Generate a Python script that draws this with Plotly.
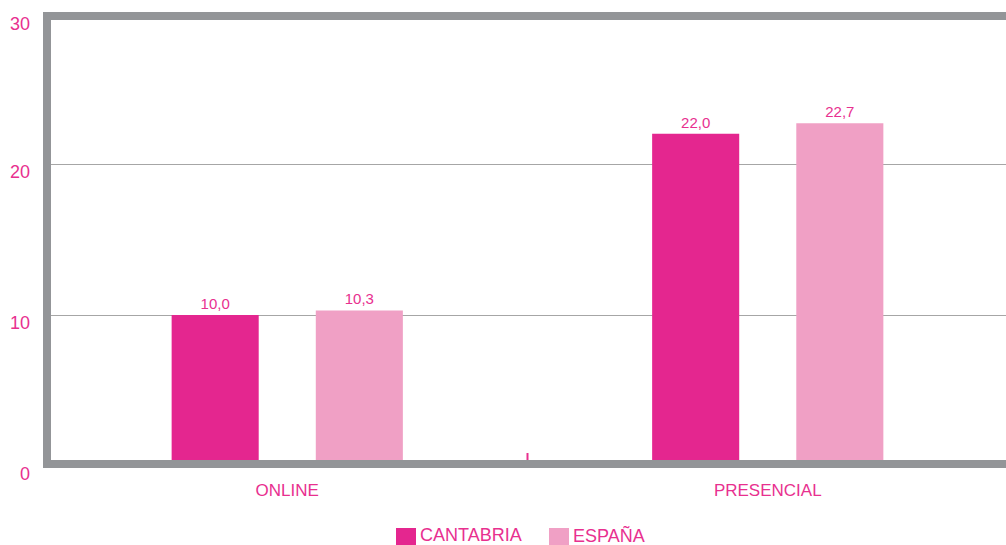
import plotly.graph_objects as go

categories = ["ONLINE", "PRESENCIAL"]
series_names = ["CANTABRIA", "ESPAÑA"]
cantabria = [10.0, 22.0]
espana = [10.3, 22.7]
y_ticks = [0, 10, 20, 30]

COL_C = "#E4268F"
COL_E = "#F0A0C5"
TXT = "#E8308F"
GRAY = "#939598"

W, H = 1006, 545
L, R, T, B = 47, 1006, 13, 466  # plot area pixels


def px(x):
    return (x - L) / (R - L)


def py(y):
    return (B - y) / (B - T)


def lab(v):
    return f"{v:.1f}".replace(".", ",")


fig = go.Figure()
for name, vals, col in [(series_names[0], cantabria, COL_C), (series_names[1], espana, COL_E)]:
    fig.add_trace(go.Bar(
        x=categories, y=vals, name=name, marker=dict(color=col, line=dict(width=0)),
        text=[lab(v) for v in vals], textposition="outside",
        textfont=dict(color=TXT, size=15, family="Liberation Sans"),
        cliponaxis=False, showlegend=False, hoverinfo="skip",
    ))

shapes = []
# frame borders
shapes.append(dict(type="rect", xref="paper", yref="paper", x0=px(43), x1=px(1006), y0=py(20), y1=py(12),
                   fillcolor=GRAY, line=dict(width=0), layer="above"))
shapes.append(dict(type="rect", xref="paper", yref="paper", x0=px(43), x1=px(51), y0=py(468), y1=py(12),
                   fillcolor=GRAY, line=dict(width=0), layer="above"))
shapes.append(dict(type="rect", xref="paper", yref="paper", x0=px(43), x1=px(1006), y0=py(468), y1=py(460),
                   fillcolor=GRAY, line=dict(width=0), layer="above"))
# category divider tick
shapes.append(dict(type="line", xref="x", yref="paper", x0=0.5, x1=0.5, y0=py(460), y1=py(453),
                   line=dict(color=TXT, width=2), layer="above"))

annotations = []
# y tick labels (drawn slightly below their gridlines, as in the reference)
for v in y_ticks:
    annotations.append(dict(xref="paper", yref="y", x=px(32), y=v, yshift=-11 if v == 30 else -8,
                            text=str(v), showarrow=False, xanchor="right", yanchor="middle",
                            font=dict(color=TXT, size=18, family="Liberation Sans")))

legend_items = [(series_names[0], COL_C, 396), (series_names[1], COL_E, 549)]
for name, col, x0 in legend_items:
    shapes.append(dict(type="rect", xref="paper", yref="paper", x0=px(x0), x1=px(x0 + 20),
                       y0=py(547), y1=py(528), fillcolor=col, line=dict(width=0)))
    annotations.append(dict(xref="paper", yref="paper", x=px(x0 + 22), y=py(535), text=name,
                            showarrow=False, xanchor="left", yanchor="middle",
                            font=dict(color=TXT, size=18, family="Liberation Sans")))

fig.update_layout(
    width=W, height=H,
    margin=dict(l=L, r=W - R, t=T, b=H - B),
    paper_bgcolor="white", plot_bgcolor="white",
    barmode="group", bargap=0.40, bargroupgap=0.396,
    shapes=shapes, annotations=annotations,
    xaxis=dict(range=[-0.5, 1.5 - 2 / 481], showgrid=False, zeroline=False, showline=False,
               ticks="", tickfont=dict(color=TXT, size=17, family="Liberation Sans"),
               ticklabelstandoff=12),
    yaxis=dict(range=[0, 30], tickvals=y_ticks, showgrid=True, gridcolor="#A6A6A6", gridwidth=1,
               zeroline=False, showline=False, ticks="", showticklabels=False),
)

fig.write_html("out.html", config={"displayModeBar": False},
               post_script="document.body.style.margin='0';document.body.style.overflow='hidden';")
